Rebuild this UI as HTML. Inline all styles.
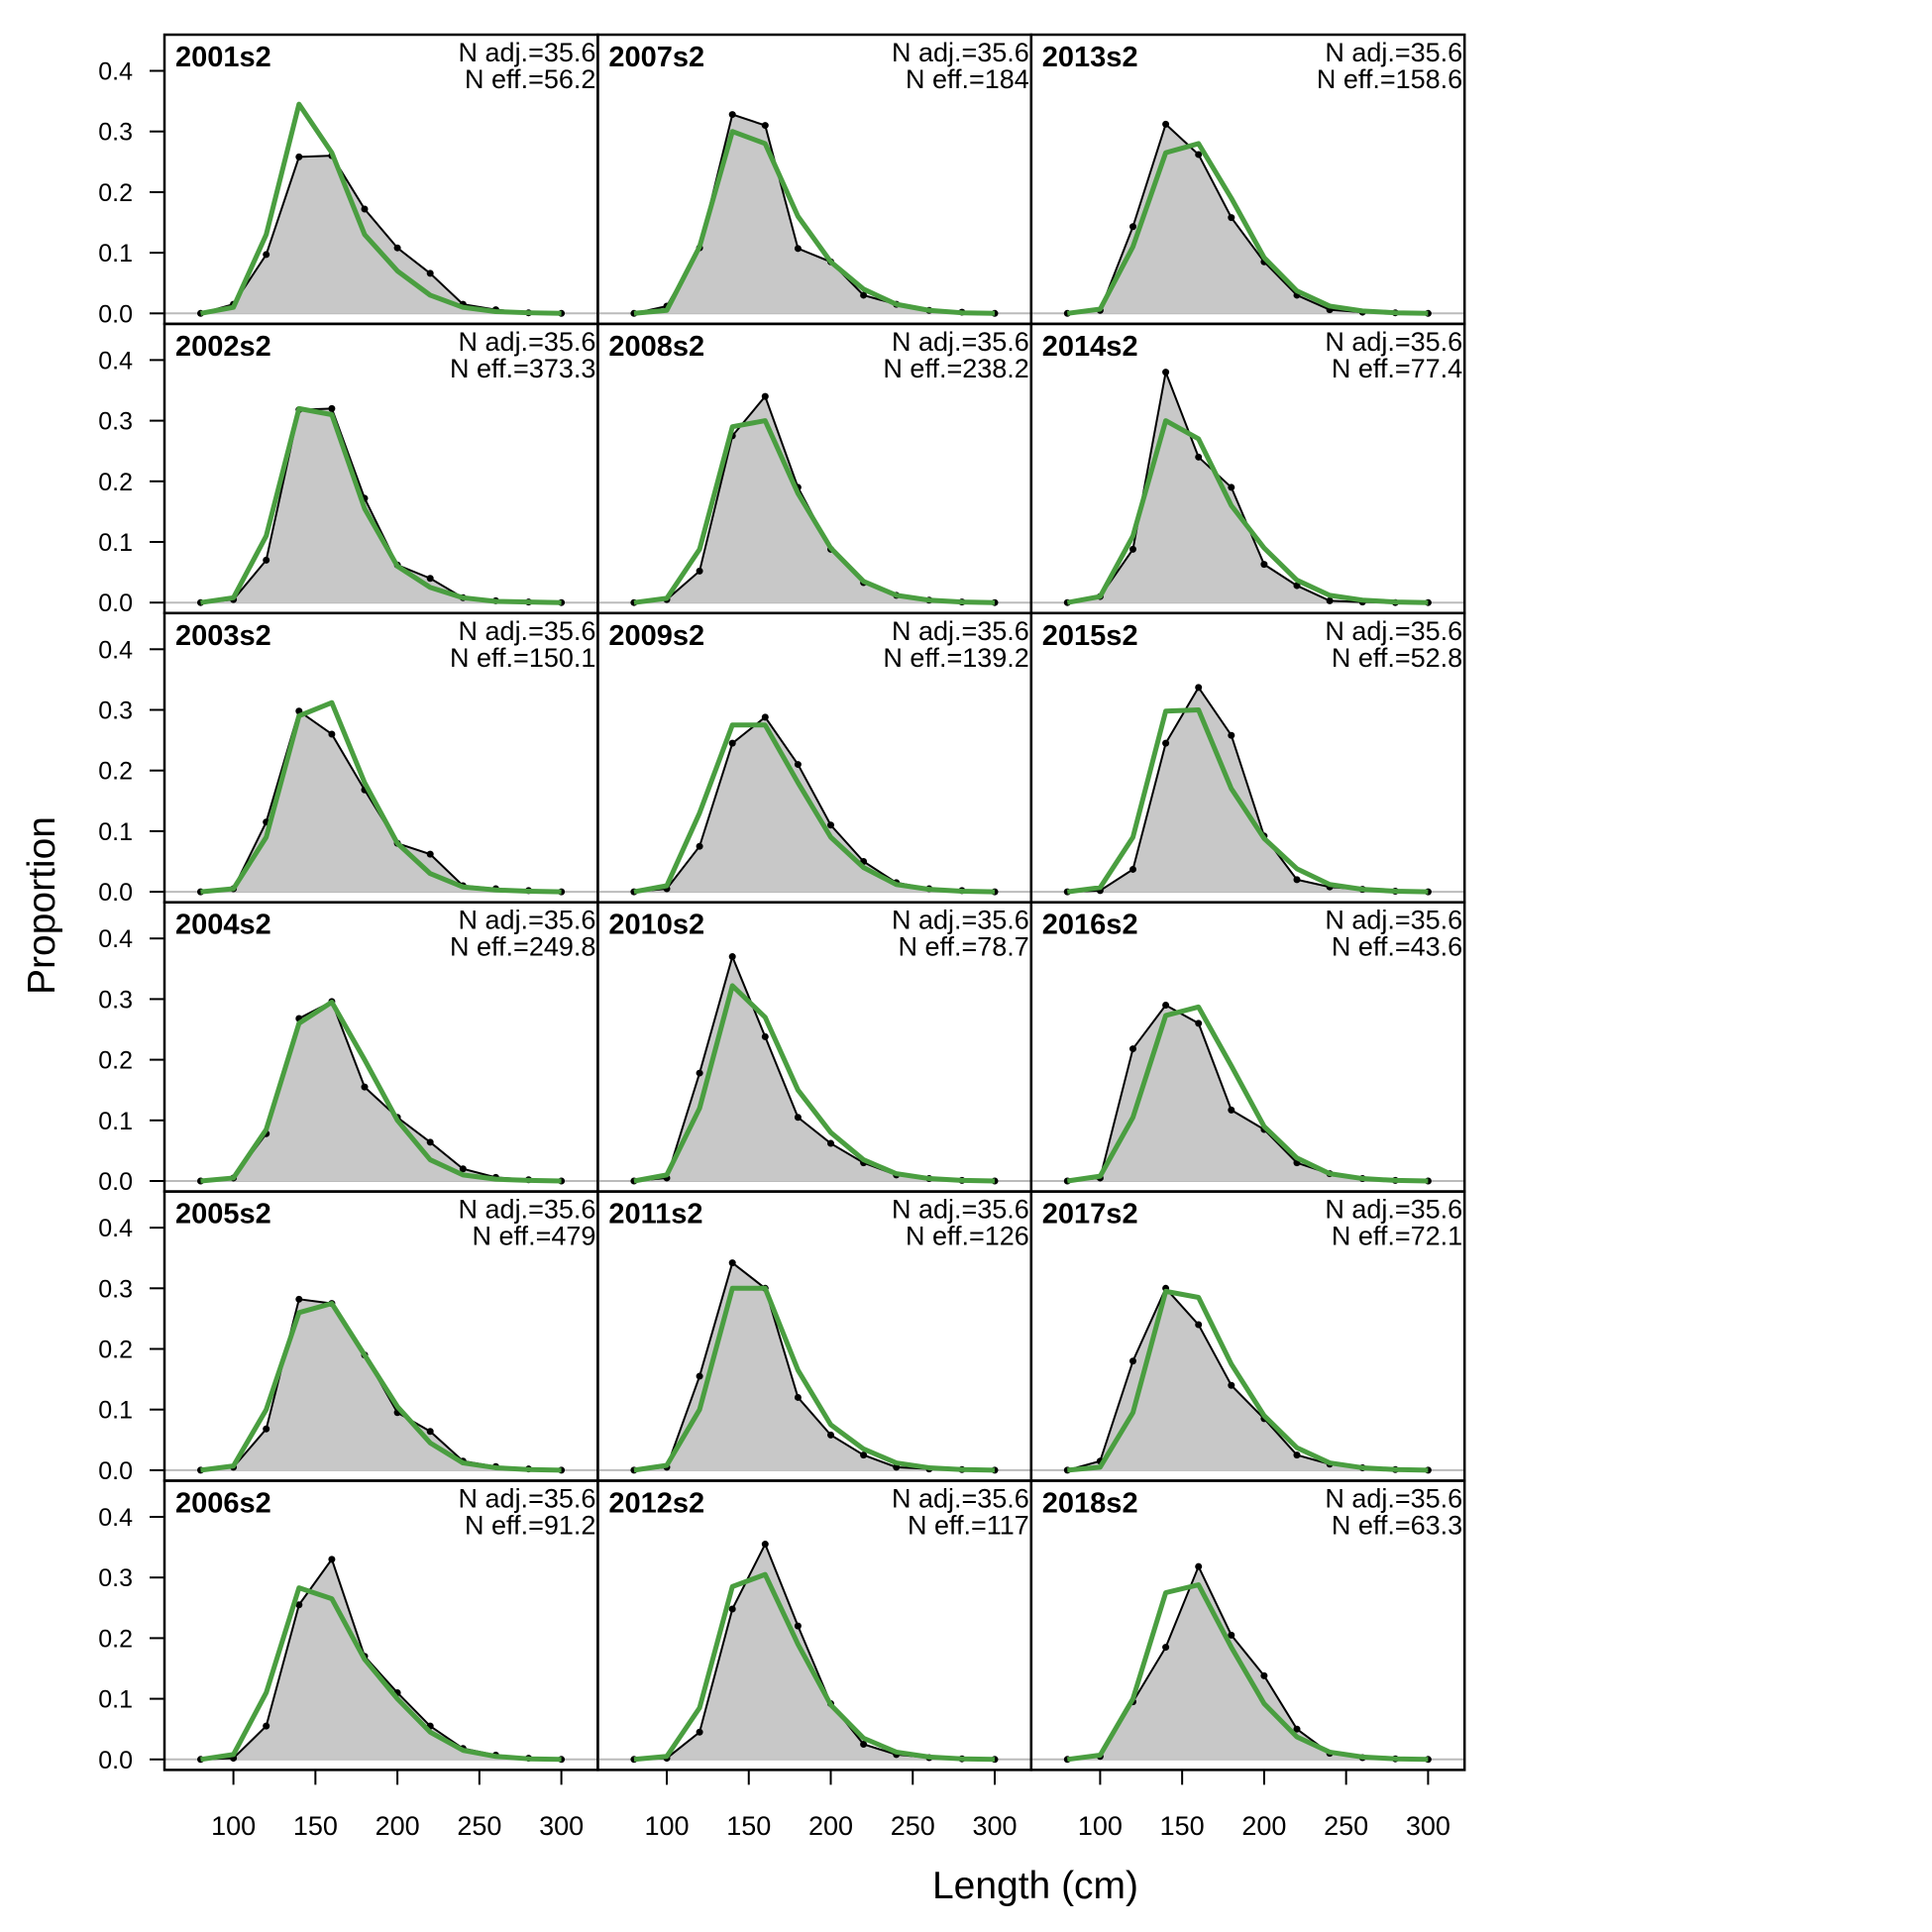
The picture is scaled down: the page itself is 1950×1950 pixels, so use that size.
<!DOCTYPE html>
<html><head><meta charset="utf-8"><style>body{margin:0;background:#fff}svg{display:block}text{font-family:"Liberation Sans",sans-serif}</style></head>
<body>
<svg id="chart" width="1950" height="1950" viewBox="0 0 1950 1950"></svg>
<script>
const lengths=[80,100,120,140,160,180,200,220,240,260,280,300];
const panelLabels=["2001s2","2002s2","2003s2","2004s2","2005s2","2006s2","2007s2","2008s2","2009s2","2010s2","2011s2","2012s2","2013s2","2014s2","2015s2","2016s2","2017s2","2018s2"];
const nEff=["56.2","373.3","150.1","249.8","479","91.2","184","238.2","139.2","78.7","126","117","158.6","77.4","52.8","43.6","72.1","63.3"];
const nAdj="35.6";
const observed=[
[0,.015,.097,.258,.26,.172,.108,.066,.015,.006,.001,0],
[0,.005,.07,.318,.32,.172,.062,.04,.008,.003,.001,0],
[0,.005,.115,.298,.26,.168,.08,.062,.01,.005,.002,0],
[0,.005,.078,.268,.296,.155,.105,.064,.02,.006,.002,0],
[0,.005,.068,.282,.275,.19,.095,.064,.015,.006,.002,0],
[0,.002,.055,.255,.33,.17,.11,.055,.018,.007,.002,0],
[0,.012,.108,.328,.31,.107,.085,.03,.015,.005,.002,0],
[0,.005,.052,.275,.34,.19,.088,.033,.012,.004,.001,0],
[0,.005,.075,.245,.288,.21,.11,.05,.015,.005,.002,0],
[0,.005,.178,.37,.238,.105,.062,.03,.01,.004,.001,0],
[0,.005,.155,.342,.3,.12,.058,.025,.005,.002,.001,0],
[0,.002,.045,.248,.355,.22,.092,.025,.008,.003,.001,0],
[0,.005,.143,.312,.262,.158,.085,.03,.006,.002,.001,0],
[0,.01,.088,.38,.24,.19,.063,.028,.003,.001,0,0],
[0,.002,.037,.245,.337,.258,.092,.02,.008,.004,.001,0],
[0,.005,.218,.29,.26,.117,.085,.03,.012,.004,.001,0],
[0,.015,.18,.3,.24,.14,.085,.025,.01,.004,.001,0],
[0,.005,.095,.185,.318,.205,.138,.05,.01,.003,.001,0]];
const expected=[
[0,.01,.13,.345,.265,.13,.07,.03,.01,.003,.001,0],
[0,.008,.11,.32,.31,.155,.06,.025,.008,.002,.001,0],
[0,.005,.09,.29,.312,.18,.08,.03,.008,.003,.001,0],
[0,.005,.085,.26,.295,.2,.1,.035,.01,.003,.001,0],
[0,.007,.1,.26,.275,.19,.105,.045,.012,.004,.001,0],
[0,.008,.11,.283,.265,.165,.1,.045,.015,.005,.001,0],
[0,.005,.11,.3,.28,.16,.085,.04,.015,.005,.001,0],
[0,.007,.088,.29,.3,.18,.09,.035,.012,.004,.001,0],
[0,.01,.13,.275,.275,.18,.09,.04,.012,.004,.001,0],
[0,.01,.12,.322,.27,.15,.08,.035,.012,.004,.001,0],
[0,.008,.1,.3,.3,.165,.075,.035,.012,.004,.001,0],
[0,.005,.085,.285,.305,.19,.09,.035,.012,.004,.001,0],
[0,.007,.11,.265,.28,.19,.092,.037,.012,.004,.001,0],
[0,.01,.11,.3,.27,.16,.09,.037,.012,.004,.001,0],
[0,.007,.09,.298,.3,.17,.088,.038,.012,.004,.001,0],
[0,.008,.105,.273,.287,.19,.09,.038,.012,.004,.001,0],
[0,.005,.095,.295,.285,.175,.09,.037,.012,.004,.001,0],
[0,.007,.1,.275,.288,.185,.092,.037,.012,.004,.001,0]];
const yTicks=[0,0.1,0.2,0.3,0.4];
const yTickLabels=["0.0","0.1","0.2","0.3","0.4"];
const xTicks=[100,150,200,250,300];

const svg=document.getElementById('chart');
const NS='http://www.w3.org/2000/svg';
function mk(tag,attrs,parent){const e=document.createElementNS(NS,tag);for(const k in attrs)e.setAttribute(k,attrs[k]);(parent||svg).appendChild(e);return e;}
const L=166,colW=437.4,T=35,rowH=291.9;
function xs(col,v){return L+col*colW+69.6+(v-100)*1.655;}
function ys(row,v){return T+row*rowH+281.3-v*612;}

for(let p=0;p<18;p++){
  const col=Math.floor(p/6),row=p%6;
  const g=mk('g',{});
  
  
  const x0=L+col*colW,y0=T+row*rowH;
  const bl=mk('line',{x1:x0,x2:x0+colW,y1:ys(row,0),y2:ys(row,0),stroke:'#bbb','stroke-width':2},g);
  
  
  let pts=lengths.map((l,i)=>xs(col,l)+','+ys(row,observed[p][i])).join(' ');
  const area=mk('polygon',{points:xs(col,lengths[0])+','+ys(row,0)+' '+pts+' '+xs(col,lengths[11])+','+ys(row,0),fill:'#c8c8c8'},g);
  
  
  const ol=mk('polyline',{points:pts,fill:'none',stroke:'#000','stroke-width':2},g);
  
  
  lengths.forEach((l,i)=>{const c=mk('circle',{cx:xs(col,l),cy:ys(row,observed[p][i]),r:3.5,fill:'#000'},g);
    
    });
  const el=mk('polyline',{points:lengths.map((l,i)=>xs(col,l)+','+ys(row,expected[p][i])).join(' '),fill:'none',stroke:'#4a9e40','stroke-width':5,'stroke-linejoin':'round'},g);
  
  
  const t=mk('text',{x:x0+11,y:y0+32,'font-size':29,'font-weight':'bold'},g);t.textContent=panelLabels[p];
  
  
  const a=mk('text',{x:x0+colW-2,y:y0+27,'font-size':27,'text-anchor':'end'},g);a.textContent='N adj.='+nAdj;
  
  
  const b=mk('text',{x:x0+colW-2,y:y0+54,'font-size':27,'text-anchor':'end'},g);b.textContent='N eff.='+nEff[p];
  
  
  const r=mk('rect',{x:x0,y:y0,width:colW,height:rowH,fill:'none',stroke:'#000','stroke-width':2.5},g);
  
  
  if(col===0){yTicks.forEach((v,i)=>{
    const tl=mk('line',{x1:L-15,x2:L,y1:ys(row,v),y2:ys(row,v),stroke:'#000','stroke-width':2});
    
    
    const tt=mk('text',{x:L-32,y:ys(row,v)+9,'font-size':25,'text-anchor':'end'});tt.textContent=yTickLabels[i];
    
    });}
  if(row===5){xTicks.forEach(v=>{
    const tl=mk('line',{x1:xs(col,v),x2:xs(col,v),y1:T+6*rowH,y2:T+6*rowH+15,stroke:'#000','stroke-width':2});
    
    
    const tt=mk('text',{x:xs(col,v),y:1852,'font-size':27,'text-anchor':'middle'});tt.textContent=v;
    
    });}
}
const yt=mk('text',{x:0,y:0,'font-size':39,'text-anchor':'middle',transform:'translate(55,914) rotate(-90)'});yt.textContent='Proportion';


const xt=mk('text',{x:1045,y:1916,'font-size':39,'text-anchor':'middle'});xt.textContent='Length (cm)';


</script>
</body></html>
